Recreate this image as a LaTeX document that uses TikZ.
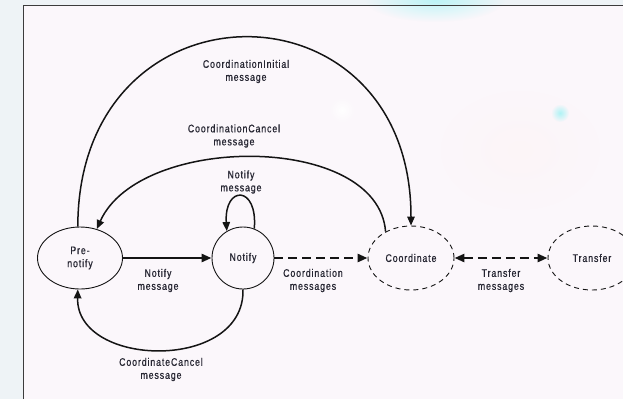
\documentclass[tikz,border=0pt]{standalone}
\usepackage{fontspec}
\setmainfont{Liberation Sans}[FakeStretch=0.8,LetterSpace=8,FakeBold=0.6]
\usetikzlibrary{arrows.meta,shapes.geometric,fadings}

\definecolor{ink}{HTML}{141414}
\definecolor{txt}{HTML}{262632}
\definecolor{paper}{HTML}{FBF7FB}
\definecolor{margin}{HTML}{EEF3F6}
\definecolor{framec}{HTML}{3C3C3C}
\definecolor{glow}{HTML}{A8F4F6}

\tikzfading[name=softspot, inner color=transparent!0, outer color=transparent!100]

\tikzset{
  state/.style={ellipse, draw=ink, line width=0.9pt, inner sep=0pt,
    minimum width=85pt, minimum height=62pt,
    font=\fontsize{11}{13}\selectfont, text=txt, align=center},
  loose/.style={state, dash pattern=on 5pt off 4pt},
  lbl/.style={font=\fontsize{11}{13}\selectfont, text=txt, align=center, inner sep=0pt},
  thin/.style={draw=ink, line width=1.5pt, -{Triangle[length=9pt,width=7.5pt]}},
  heavy/.style={draw=ink, line width=2.6pt, -{Triangle[length=10pt,width=8pt]}},
  heavydash/.style={heavy, dash pattern=on 9pt off 5pt},
}

\begin{document}
\begin{tikzpicture}[x=1pt,y=-1pt]
  \useasboundingbox (0,0) rectangle (623,399);
  \clip (0,0) rectangle (623,399);

  % paper and frame
  \fill[margin] (0,0) rectangle (623,399);
  \fill[paper] (23,5) rectangle (623,399);
  \fill[glow, path fading=softspot, opacity=0.7] (435,0) ellipse (70pt and 22pt);
  \fill[glow, path fading=softspot] (560,113) circle (9pt);
  \fill[pink!20, path fading=softspot, opacity=0.4] (520,150) ellipse (80pt and 60pt);
  \fill[white, path fading=softspot] (342,110) circle (13pt);
  \draw[framec, line width=1pt] (23,399) -- (23,5) -- (623,5);

  % states
  \node[state] (pre) at (80,258) {Pre-\\notify};
  \node[state, circle, minimum size=62pt] (notify) at (243,258) {Notify};
  \node[loose, minimum width=86pt, minimum height=64pt] (coord) at (411,258) {Coordinate};
  \node[loose, minimum width=88pt, minimum height=64pt] (transfer) at (592,258) {Transfer};

  % transitions
  \draw[heavy] (pre.east) -- (notify.west);
  \draw[heavydash] (notify.east) -- (coord.west);
  \draw[heavydash, {Triangle[length=10pt,width=8pt]}-{Triangle[length=10pt,width=8pt]}]
    (coord.east) -- (transfer.west);
  \draw[thin] (notify.69) .. controls (258,185) and (224,185) .. (notify.121);
  \draw[thin] (notify.south) .. controls (245,372) and (76,368) .. (pre.266);
  \draw[thin] (coord.134) .. controls (378,133) and (140,133) .. (pre.60);
  \draw[thin] (pre.94) .. controls (78,-25) and (411,-25) .. (coord.north);

  % labels
  \node[lbl] (lInit) at (246,71.5) {CoordinationInitial\\message};
  \node[lbl] (lCancel) at (234,136) {CoordinationCancel\\message};
  \node[lbl] (lLoop) at (241,182) {Notify\\message};
  \node[lbl] (lNotify) at (158,280.5) {Notify\\message};
  \node[lbl] (lCoord) at (313,280.5) {Coordination\\messages};
  \node[lbl] (lTransfer) at (501,280.5) {Transfer\\messages};
  \node[lbl] (lBack) at (161,369.5) {CoordinateCancel\\message};
\end{tikzpicture}
\end{document}
